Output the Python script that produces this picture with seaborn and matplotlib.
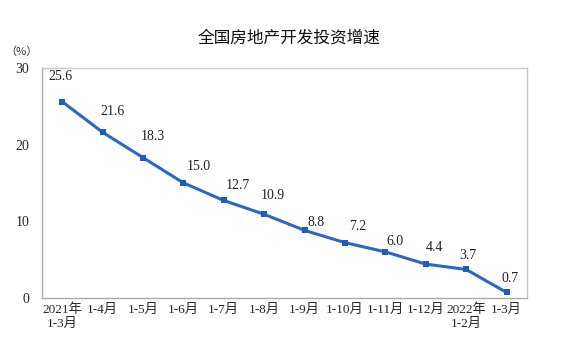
import matplotlib
matplotlib.use("Agg")
import matplotlib.pyplot as plt
import seaborn as sns
import pandas as pd

# 数据
periods = ["2021年\n1-3月", "1-4月", "1-5月", "1-6月", "1-7月", "1-8月",
           "1-9月", "1-10月", "1-11月", "1-12月", "2022年\n1-2月", "1-3月"]
growth = [25.6, 21.6, 18.3, 15.0, 12.7, 10.9, 8.8, 7.2, 6.0, 4.4, 3.7, 0.7]
yticks = [0, 10, 20, 30]

# 数据标签偏移（像素），按原图摆放
label_dx = [-2, 10, 10, 15, 14, 9, 12, 13, 10, 9, 2, 4]
label_dy = [25, 21, 21, 16, 15, 19, 8, 16, 10, 17, 14, 14]

sns.set_theme(style="white")
plt.rcParams["font.family"] = ["Liberation Serif", "Noto Sans CJK SC"]

df = pd.DataFrame({"x": range(len(periods)), "y": growth})

fig = plt.figure(figsize=(5.67, 3.61), dpi=100)
ax = fig.add_axes([0.074, 0.175, 0.855, 0.637])

sns.lineplot(data=df, x="x", y="y", ax=ax, color="#2b67c4", linewidth=2.2,
             marker="s", markersize=4.5, markeredgewidth=0, markerfacecolor="#1f5cc0")

for i, v in enumerate(growth):
    ax.annotate(f"{v:.1f}", (i, v), xytext=(label_dx[i], label_dy[i]),
                textcoords="offset pixels", ha="center", va="center",
                fontsize=10, color="#222222")

ax.set_xlim(-0.5, len(periods) - 0.5)
ax.set_ylim(0, 30)
ax.set_yticks(yticks)
ax.set_yticklabels([str(t) for t in yticks], fontsize=10)
ax.set_xticks([i + 0.5 for i in range(len(periods) - 1)])
ax.set_xticklabels([])
ax.set_xticks(range(len(periods)), minor=True)
ax.set_xticklabels(periods, minor=True, fontsize=9.5)
ax.tick_params(axis="x", which="major", direction="in", length=4, color="#bbbbbb", width=0.8)
ax.tick_params(axis="x", which="minor", length=0, pad=4)
ax.tick_params(axis="y", direction="out", length=3, color="#bbbbbb", width=0.8, pad=6)
ax.set_xlabel("")
ax.set_ylabel("")
for s in ax.spines.values():
    s.set_color("#c8c8c8")
    s.set_linewidth(1.0)
ax.spines["left"].set_color("#aaaaaa")
ax.spines["bottom"].set_color("#aaaaaa")

fig.text(0.51, 0.895, "全国房地产开发投资增速", ha="center", va="center",
         fontsize=12, family=["Noto Sans CJK SC"], color="#111111")
fig.text(0.038, 0.856, "（%）", ha="center", va="center", fontsize=8,
         family=["Noto Sans CJK SC"], color="#333333")

fig.savefig("out.png", dpi=100)
